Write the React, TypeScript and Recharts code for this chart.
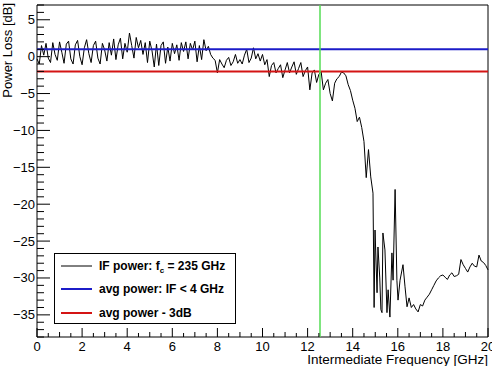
import { LineChart, Line, XAxis, YAxis, ReferenceLine, ReferenceArea } from "recharts";

const FONT = '"Liberation Sans", Arial, Helvetica, sans-serif';

// IF power sweep, 0.0 – 14.9 GHz in 0.1 GHz steps [dB]
const lowBandDb = [
  -0.3, -1.0, 1.5, 0.2, 1.8, -0.2, -0.8, 1.9, 0.3, -0.5,
  2.0, 0.6, -0.9, 1.7, 2.1, -0.3, -1.0, 1.6, 2.2, 0.0,
  -1.1, 1.2, 2.3, 0.4, -0.8, 1.5, 2.1, -0.2, -1.0, 1.8,
  0.9, -0.6, 1.9, 0.2, 2.4, -0.4, 1.6, 2.5, -0.3, 1.8,
  0.6, 3.2, 1.5, -0.2, 2.6, 1.2, 2.2, 0.3, 1.9, -0.8,
  2.1, 0.8, -1.4, 1.7, -1.2, 1.5, 2.0, -0.9, 1.3, -0.6,
  1.8, 0.4, 1.6, -0.5, 1.9, 0.7, 2.0, -0.3, 1.8, 0.9,
  2.1, -0.7, 1.5, -0.4, 2.3, 0.8, 1.4, 0.3, -0.2, -0.5,
  -2.2, -0.4, -1.0, -1.5, -0.5, -0.1, -1.2, -0.7, 0.3, -0.9,
  -0.4, -1.0, 0.2, 1.0, -0.8, -0.2, 1.2, -0.3, 0.4, -0.6,
  0.3, -1.1, -0.4, -2.7, -1.2, -0.8, -2.2, -1.6, -1.1, -2.85,
  -1.8, -0.8, -2.2, -1.4, -0.7, -2.4, -1.6, -0.8, -2.7, -1.9,
  -1.4, -4.5, -2.2, -1.8, -3.5, -2.4, -2.0, -4.5, -3.6, -3.1,
  -5.0, -6.0, -3.6, -3.0, -2.7, -2.1, -2.2, -2.6, -3.8, -4.6,
  -5.9, -7.0, -8.8, -8.2, -9.6, -11.5, -16.4, -12.6, -16.3, -18.5,
];

// roll-off region, [GHz, dB]
const cutoffPoints: [number, number][] = [
  [14.95, -34.0], [14.99, -23.5], [15.08, -32.0], [15.12, -25.8],
  [15.2, -30.0], [15.25, -34.3], [15.3, -34.7], [15.34, -23.9],
  [15.43, -26.2], [15.52, -34.7], [15.57, -31.6], [15.65, -35.3],
  [15.74, -26.6], [15.79, -30.3], [15.88, -18.0], [15.96, -30.3],
  [16.01, -33.0], [16.1, -30.3], [16.23, -28.2], [16.32, -31.2],
  [16.41, -33.9], [16.5, -32.7],
];

// 16.6 – 20.0 GHz in 0.1 GHz steps [dB]
const tailDb = [
  -34.0, -33.6, -34.2, -34.6,
  -33.6, -33.8, -33.0, -32.6, -32.2, -31.6, -31.0, -30.4, -30.0, -29.7,
  -29.6, -29.9, -30.2, -29.6, -29.3, -29.8, -29.7, -29.5, -27.5, -28.2,
  -28.7, -29.2, -28.5, -28.0, -28.4, -28.5, -26.9, -27.7, -27.9, -28.3,
  -28.9,
];

const avgPowerDb = 1.0;
const halfPowerDb = avgPowerDb - 3;
const cornerGHz = 12.55;

const xMajorTicks = [0, 2, 4, 6, 8, 10, 12, 14, 16, 18, 20];
const yMajorTicks = [-35, -30, -25, -20, -15, -10, -5, 0, 5];

const sweep = [
  ...lowBandDb.map((db, i) => ({ f: i / 10, db })),
  ...cutoffPoints.map(([f, db]) => ({ f, db })),
  ...tailDb.map((db, i) => ({ f: (166 + i) / 10, db })),
];

const xTicks = Array.from({ length: 41 }, (_, i) => i / 2);
const yTicks = Array.from({ length: 46 }, (_, i) => i - 38);

function XTick({ x, y, payload }: any) {
  const v = payload.value;
  const major = xMajorTicks.includes(v);
  const len = major ? 9 : Number.isInteger(v) ? 5 : 4;
  return (
    <g>
      <line x1={x} x2={x} y1={y} y2={y - len} stroke="#000" strokeWidth={1} />
      {major && (
        <text x={x} y={y + 14} textAnchor="middle" fontSize={13} fontFamily={FONT} fill="#000">
          {v}
        </text>
      )}
    </g>
  );
}

function YTick({ x, y, payload }: any) {
  const v = payload.value;
  const major = yMajorTicks.includes(v);
  const len = major ? 13 : 7;
  return (
    <g>
      <line x1={x} x2={x + len} y1={y} y2={y} stroke="#000" strokeWidth={1} />
      {major && (
        <text x={x - 2} y={y + 4.5} textAnchor="end" fontSize={13} fontFamily={FONT} fill="#000">
          {v < 0 ? `\u2212${-v}` : v}
        </text>
      )}
    </g>
  );
}

export default function App() {
  return (
    <div style={{ position: "fixed", left: 0, top: 0, width: 492, height: 366, background: "#fff" }}>
      <LineChart
        width={492}
        height={366}
        data={sweep}
        margin={{ top: 5, right: 4, left: 0, bottom: 0 }}
      >
        <XAxis
          dataKey="f"
          type="number"
          domain={[0, 20]}
          ticks={xTicks}
          interval={0}
          tick={<XTick />}
          tickLine={false}
          axisLine={false}
          tickSize={0}
          tickMargin={0}
          height={29}
        />
        <YAxis
          type="number"
          domain={[-38, 7]}
          ticks={yTicks}
          interval={0}
          tick={<YTick />}
          tickLine={false}
          axisLine={false}
          tickSize={0}
          tickMargin={0}
          width={37}
          allowDataOverflow
        />
        <ReferenceArea x1={0} x2={20} y1={-38} y2={7} fill="none" stroke="#000" strokeWidth={1} />
        <Line
          dataKey="db"
          type="linear"
          stroke="#000"
          strokeWidth={1}
          dot={false}
          isAnimationActive={false}
        />
        <ReferenceLine y={avgPowerDb} stroke="#1c1cc8" strokeWidth={2} />
        <ReferenceLine y={halfPowerDb} stroke="#d41414" strokeWidth={2} />
        <ReferenceLine x={cornerGHz} stroke="#55dd55" strokeWidth={1.5} />
      </LineChart>
      <svg
        width={492}
        height={366}
        style={{ position: "absolute", left: 0, top: 0, pointerEvents: "none" }}
        fontFamily={FONT}
      >
        <text x={488} y={364} textAnchor="end" fontSize={13.5}>
          Intermediate Frequency [GHz]
        </text>
        <text transform="translate(11.5, 3) rotate(-90)" textAnchor="end" fontSize={13}>
          Power Loss [dB]
        </text>
        <rect x={54.5} y={253.5} width={181} height={70} fill="#fff" stroke="#000" strokeWidth={1} />
        <line x1={61} x2={92} y1={266} y2={266} stroke="#000" strokeWidth={1} />
        <line x1={61} x2={92} y1={289} y2={289} stroke="#1c1cc8" strokeWidth={2} />
        <line x1={61} x2={92} y1={313} y2={313} stroke="#d41414" strokeWidth={2} />
        <text x={99} y={270} fontSize={12} fontWeight="bold">
          IF power: f<tspan fontSize={8} dy={3}>c</tspan>
          <tspan dy={-3}> = 235 GHz</tspan>
        </text>
        <text x={99} y={293} fontSize={12} fontWeight="bold">
          avg power: IF &lt; 4 GHz
        </text>
        <text x={99} y={317} fontSize={12} fontWeight="bold">
          avg power - 3dB
        </text>
      </svg>
    </div>
  );
}
